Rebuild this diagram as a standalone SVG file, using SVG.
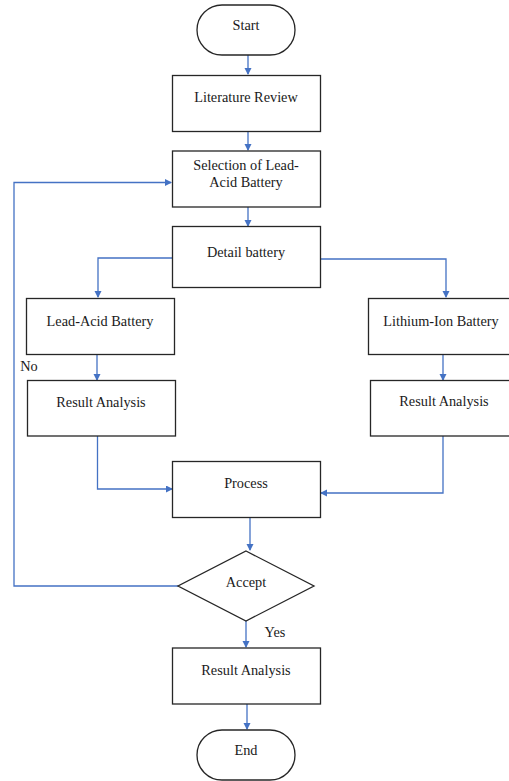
<svg xmlns="http://www.w3.org/2000/svg" width="509" height="781" viewBox="0 0 509 781">
<style>
.box{fill:#fff;stroke:#262626;stroke-width:1.3}
.t{font-family:'Liberation Serif','Times New Roman',serif;font-size:14.3px;fill:#1a1a1a;text-anchor:middle}
.c{fill:none;stroke:#4472C4;stroke-width:1.3}
</style>
<defs>
<marker id="a" markerWidth="8" markerHeight="8" refX="6" refY="3.5" orient="auto" markerUnits="userSpaceOnUse">
<path d="M0,0 L7,3.5 L0,7 z" fill="#4472C4"/>
</marker>
</defs>
<rect width="509" height="781" fill="#fff"/>
<g id="connectors">
<path class="c" d="M248,55 V74" marker-end="url(#a)"/>
<path class="c" d="M248,132 V150" marker-end="url(#a)"/>
<path class="c" d="M248,207 V226" marker-end="url(#a)"/>
<path class="c" d="M175,258 H98 V297" marker-end="url(#a)"/>
<path class="c" d="M321,259 H446 V297" marker-end="url(#a)"/>
<path class="c" d="M97,355 V380" marker-end="url(#a)"/>
<path class="c" d="M443,355 V380" marker-end="url(#a)"/>
<path class="c" d="M97.5,436 V489 H172" marker-end="url(#a)"/>
<path class="c" d="M443,436 V493 H321" marker-end="url(#a)"/>
<path class="c" d="M250,518 V550" marker-end="url(#a)"/>
<path class="c" d="M178,586 H14 V182.5 H171" marker-end="url(#a)"/>
<path class="c" d="M246,621 V647" marker-end="url(#a)"/>
<path class="c" d="M247,704 V729" marker-end="url(#a)"/>
</g>
<g id="start"><rect class="box" x="197" y="5" width="98" height="50" rx="25" ry="25"/><text class="t" x="246" y="30">Start</text></g>
<g id="literature"><rect class="box" x="172.5" y="75.5" width="148" height="56"/><text class="t" x="246" y="102">Literature Review</text></g>
<g id="selection"><rect class="box" x="172.5" y="151" width="148" height="56"/><text class="t" x="246" y="170">Selection of Lead-</text><text class="t" x="246" y="187">Acid Battery</text></g>
<g id="detail"><rect class="box" x="172.5" y="226.5" width="148" height="61"/><text class="t" x="246" y="256.5">Detail battery</text></g>
<g id="leadacid"><rect class="box" x="26.5" y="298.5" width="148" height="56"/><text class="t" x="100" y="326">Lead-Acid Battery</text></g>
<g id="lithium"><rect class="box" x="368.5" y="298.5" width="145" height="56"/><text class="t" x="441" y="326">Lithium-Ion Battery</text></g>
<g id="result-left"><rect class="box" x="27.5" y="380.5" width="148" height="55.5"/><text class="t" x="101" y="406.5">Result Analysis</text></g>
<g id="result-right"><rect class="box" x="370.5" y="380.5" width="143" height="55.5"/><text class="t" x="444" y="406">Result Analysis</text></g>
<g id="process"><rect class="box" x="172.5" y="461.5" width="148" height="56"/><text class="t" x="246" y="488">Process</text></g>
<g id="accept"><polygon class="box" points="246,551 314,586 246,621 178,586"/><text class="t" x="246" y="586.5">Accept</text></g>
<g id="labels"><text class="t" x="29" y="371">No</text><text class="t" x="275" y="636.5">Yes</text></g>
<g id="result-final"><rect class="box" x="172.5" y="648" width="148" height="56"/><text class="t" x="246" y="675">Result Analysis</text></g>
<g id="end"><rect class="box" x="197" y="730" width="98" height="50" rx="25" ry="25"/><text class="t" x="246" y="755">End</text></g>
</svg>
